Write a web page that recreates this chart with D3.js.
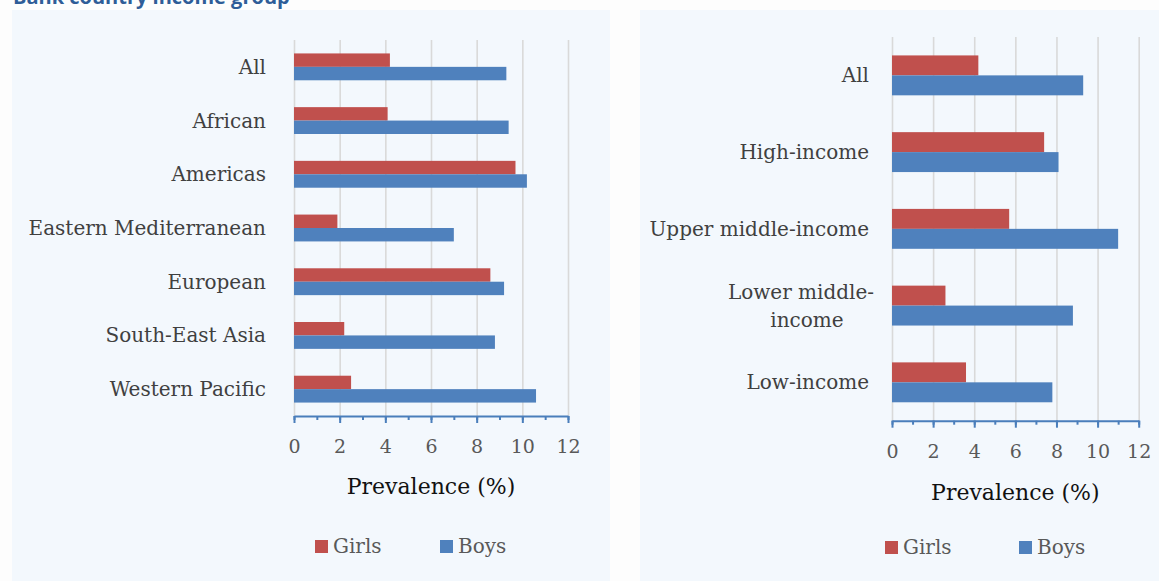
<!DOCTYPE html>
<html>
<head>
<meta charset="utf-8">
<script src="https://cdn.jsdelivr.net/npm/d3@7"></script>
<style>
  body { margin: 0; background: #fdfdfd; }
  svg { display: block; }
</style>
</head>
<body>
<script>
// WHO region panel
const regions = ["All", "African", "Americas", "Eastern Mediterranean", "European", "South-East Asia", "Western Pacific"];
const regionGirls = [4.2, 4.1, 9.7, 1.9, 8.6, 2.2, 2.5];
const regionBoys = [9.3, 9.4, 10.2, 7.0, 9.2, 8.8, 10.6];

// income group panel
const incomeGroups = ["All", "High-income", "Upper middle-income", "Lower middle-\nincome", "Low-income"];
const incomeGirls = [4.2, 7.4, 5.7, 2.6, 3.6];
const incomeBoys = [9.3, 8.1, 11.0, 8.8, 7.8];

const seriesNames = ["Girls", "Boys"];
const xTicks = [0, 2, 4, 6, 8, 10, 12];
const xMinorTicks = [0, 1, 2, 3, 4, 5, 6, 7, 8, 9, 10, 11, 12];
const axisTitle = "Prevalence (%)";
const pageTitle = "Bank country income group";

const width = 1159, height = 581;
const colors = { Girls: "#c0504d", Boys: "#4f81bd" };
const serif = "'DejaVu Serif', serif";

const svg = d3.select("body").append("svg")
    .attr("width", width)
    .attr("height", height);

// title cut off at the top of the page
svg.append("text")
    .attr("x", 13)
    .attr("y", 4)
    .attr("font-family", "'Open Sans', sans-serif")
    .attr("font-weight", "bold")
    .attr("font-size", 20)
    .attr("fill", "#2f5d98")
    .text(pageTitle);

function drawPanel(p) {
    // panel background
    svg.append("rect")
        .attr("x", p.left).attr("y", 10)
        .attr("width", p.right - p.left).attr("height", height - 10)
        .attr("fill", "#f3f8fd");

    const x = d3.scaleLinear().domain([0, 12]).range(p.xRange);
    const y = d3.scaleBand().domain(p.cats).range(p.yRange)
        .paddingInner(p.pad).paddingOuter(p.pad / 2);
    const ySub = d3.scaleBand().domain(seriesNames).range([0, y.bandwidth()]);

    const plotH = p.yRange[1] - p.yRange[0];

    // gridlines
    const grid = svg.append("g")
        .attr("transform", `translate(0,${p.yRange[1]})`)
        .call(d3.axisBottom(x).tickValues(xTicks).tickSize(-plotH).tickFormat(""));
    grid.select(".domain").remove();
    grid.selectAll("line").attr("stroke", "#d9d9d9").attr("stroke-width", 1.6);

    // bars
    const rows = p.cats.map((c, i) => ({ cat: c, Girls: p.girls[i], Boys: p.boys[i] }));
    const g = svg.append("g");
    g.selectAll("g.row")
        .data(rows)
        .join("g")
        .attr("transform", d => `translate(0,${y(d.cat)})`)
        .selectAll("rect")
        .data(d => seriesNames.map(s => ({ s, v: d[s] })))
        .join("rect")
        .attr("x", x(0))
        .attr("y", d => ySub(d.s))
        .attr("width", d => x(d.v) - x(0))
        .attr("height", ySub.bandwidth())
        .attr("fill", d => colors[d.s]);

    // axis: minor ticks, then major ticks with labels
    const minor = svg.append("g")
        .attr("transform", `translate(0,${p.yRange[1]})`)
        .call(d3.axisBottom(x).tickValues(xMinorTicks).tickSize(4).tickFormat(""));
    minor.select(".domain").remove();
    minor.selectAll("line").attr("stroke", "#4a7ebb").attr("stroke-width", 2);

    const major = svg.append("g")
        .attr("transform", `translate(0,${p.yRange[1]})`)
        .call(d3.axisBottom(x).tickValues(xTicks).tickSizeInner(7).tickSizeOuter(0).tickPadding(17));
    major.select(".domain").attr("stroke", "#4a7ebb").attr("stroke-width", 2);
    major.selectAll("line").attr("stroke", "#4a7ebb").attr("stroke-width", 2);
    major.selectAll("text")
        .attr("font-family", serif)
        .attr("font-size", 19)
        .attr("fill", "#595959");

    // category labels
    p.cats.forEach(c => {
        const lines = c.split("\n");
        const cy = y(c) + y.bandwidth() / 2;
        const lh = 28;
        const t = svg.append("text")
            .attr("font-family", serif)
            .attr("font-size", 20)
            .attr("fill", "#404040");
        if (lines.length === 1) {
            t.attr("x", p.labelX).attr("y", cy + 7)
                .attr("text-anchor", "end").text(c);
        } else {
            t.attr("text-anchor", "middle");
            lines.forEach((ln, i) => {
                t.append("tspan")
                    .attr("x", p.labelX - 68 + (i ? 6 : 0))
                    .attr("y", cy + 7 + (i - (lines.length - 1) / 2) * lh)
                    .text(ln);
            });
        }
    });

    // axis title
    svg.append("text")
        .attr("x", d3.mean(p.xRange))
        .attr("y", p.titleY)
        .attr("text-anchor", "middle")
        .attr("font-family", serif)
        .attr("font-size", 22)
        .attr("fill", "#111")
        .text(axisTitle);

    // legend
    seriesNames.forEach((s, i) => {
        const lx = p.legendX[i];
        svg.append("rect")
            .attr("x", lx).attr("y", p.legendY - 13)
            .attr("width", 13).attr("height", 13)
            .attr("fill", colors[s]);
        svg.append("text")
            .attr("x", lx + 18).attr("y", p.legendY)
            .attr("font-family", serif)
            .attr("font-size", 20)
            .attr("fill", "#595959")
            .text(s);
    });
}

drawPanel({
    left: 12, right: 610,
    cats: regions, girls: regionGirls, boys: regionBoys,
    xRange: [294, 568], yRange: [40, 416], pad: 0.5,
    labelX: 266, titleY: 494, legendX: [315, 440], legendY: 553
});

drawPanel({
    left: 640, right: 1159,
    cats: incomeGroups, girls: incomeGirls, boys: incomeBoys,
    xRange: [892, 1138.7], yRange: [37, 420.7], pad: 0.48,
    labelX: 869, titleY: 500, legendX: [885, 1019], legendY: 554
});
</script>
</body>
</html>
